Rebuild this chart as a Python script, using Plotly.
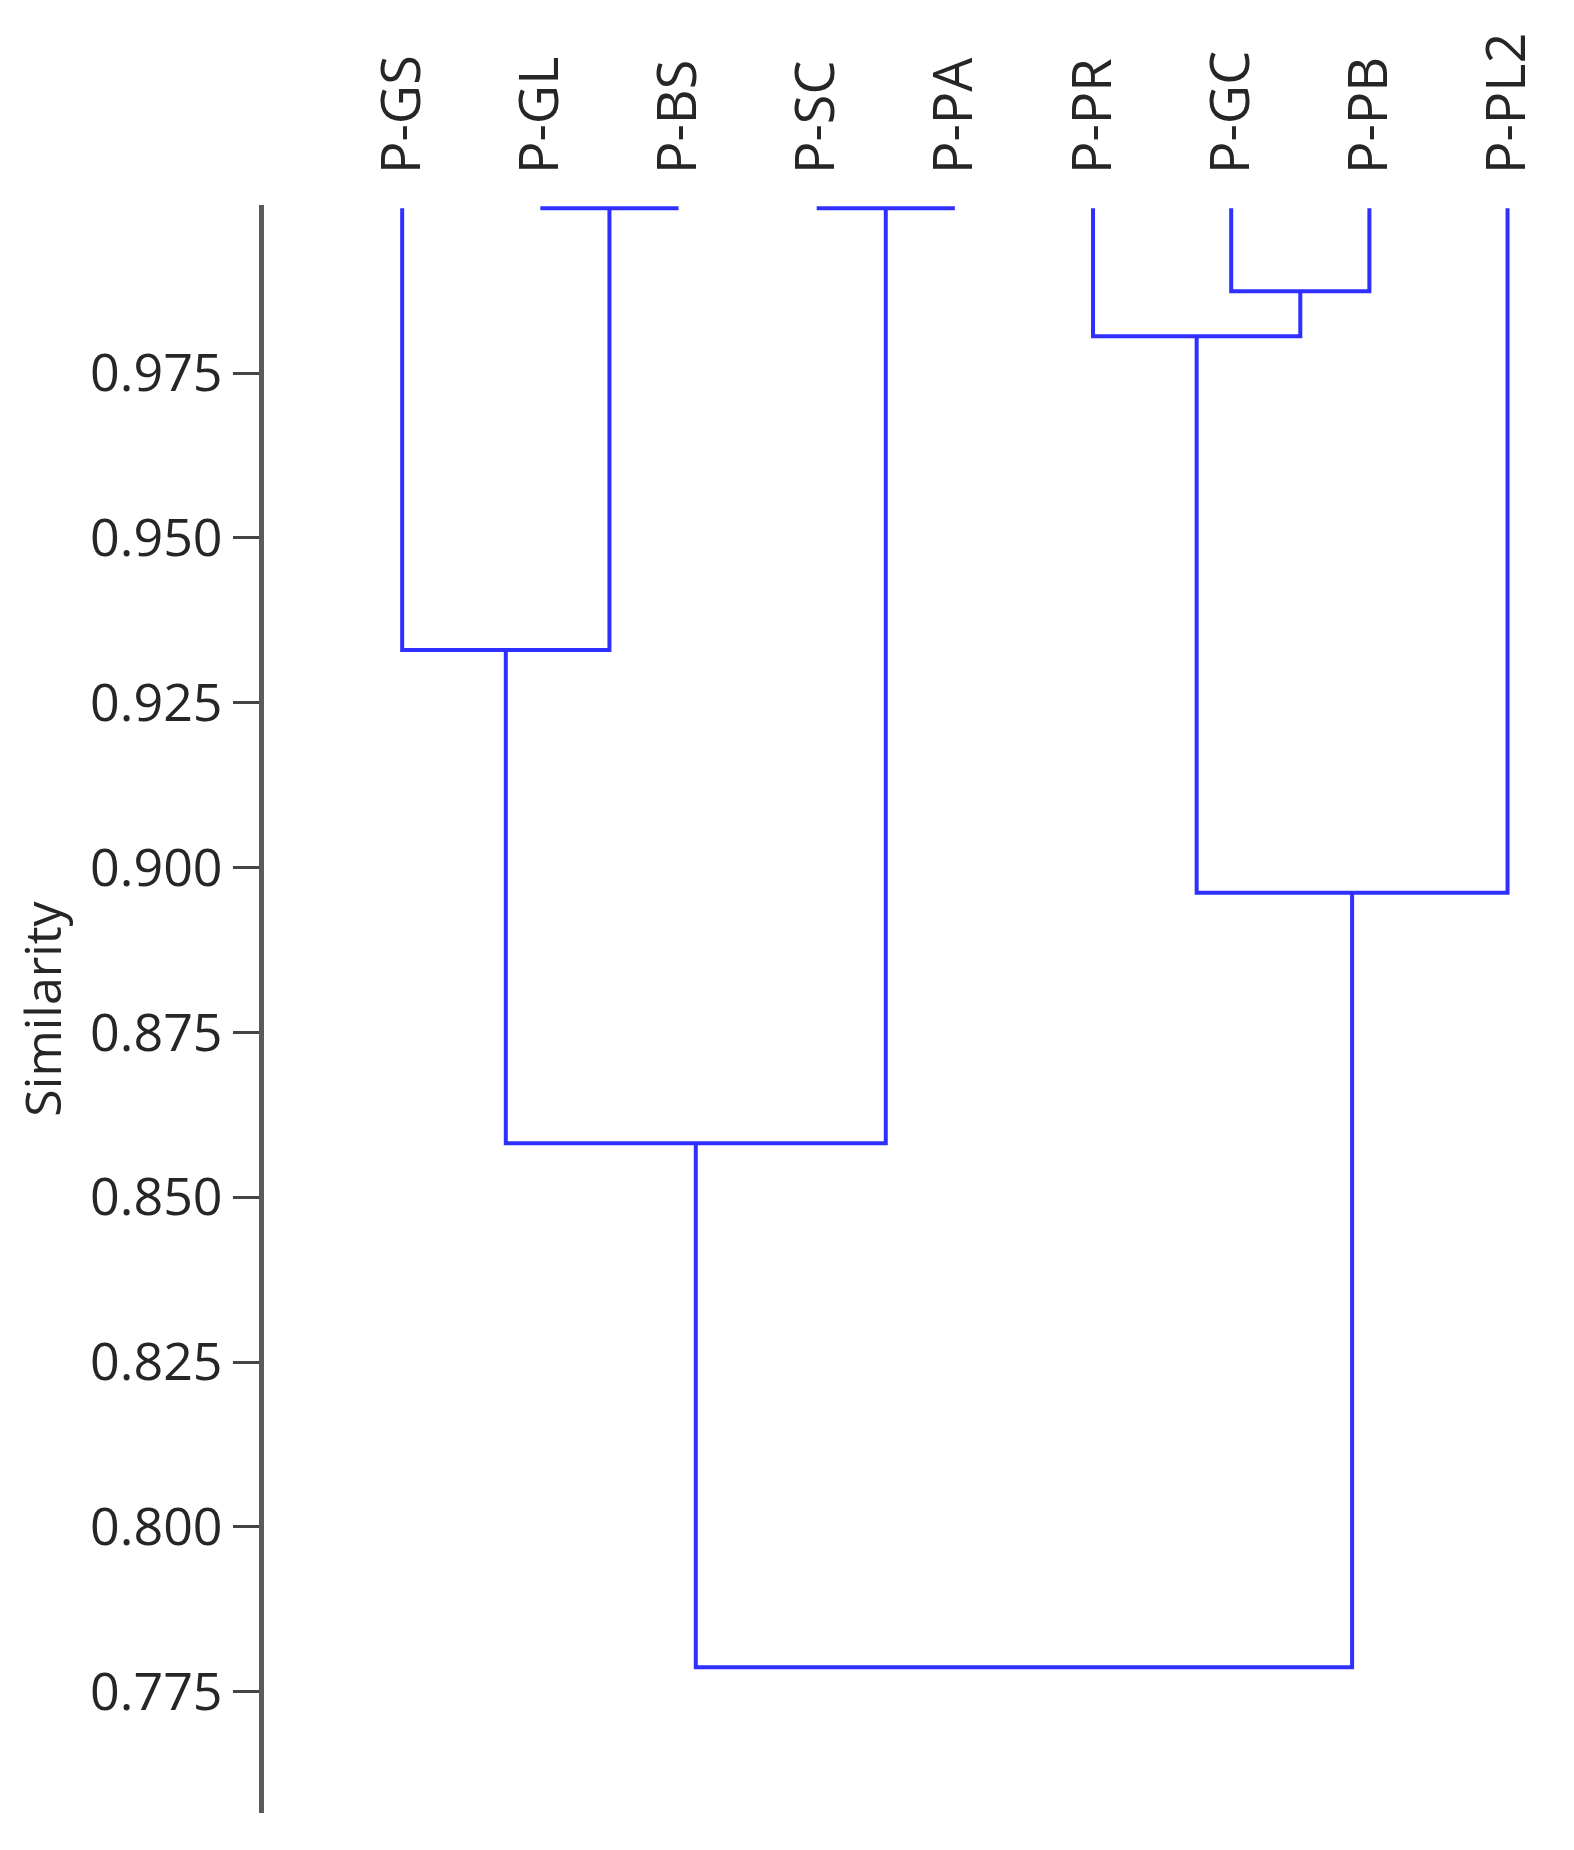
import plotly.graph_objects as go

# leaf labels, left to right as they sit on the top axis
leaves = ["P-GS", "P-GL", "P-BS", "P-SC", "P-PA", "P-PR", "P-GC", "P-PB", "P-PL2"]

# merges: (left child, right child, similarity)
# children are leaf names or the index of an earlier merge
merge_left = ["P-GL", "P-SC", "P-GC", "P-PR", "P-GS", 3, 4, 6]
merge_right = ["P-BS", "P-PA", "P-PB", 2, 0, "P-PL2", 1, 5]
merge_sim = [1.0, 1.0, 0.9874, 0.9806, 0.933, 0.8962, 0.8582, 0.7787]

y_ticks = [0.775, 0.800, 0.825, 0.850, 0.875, 0.900, 0.925, 0.950, 0.975]

LEAF_TOP = 1.0
LINE_COL = "#2f2fff"
TXT_COL = "#262626"
FONT = "Open Sans"


def node_pos(node, xs, hs):
    ### returns (x, height) for a leaf name or merge index
    if isinstance(node, str):
        return leaves.index(node) + 1, LEAF_TOP
    return xs[node], hs[node]


def dendro_lines():
    xs, hs = [], []
    lx, ly = [], []
    for a, b, s in zip(merge_left, merge_right, merge_sim):
        xa, ha = node_pos(a, xs, hs)
        xb, hb = node_pos(b, xs, hs)
        # left leg, bar, right leg
        lx += [xa, xa, xb, xb, None]
        ly += [ha, s, s, hb, None]
        xs.append((xa + xb) / 2)
        hs.append(s)
    return lx, ly


lx, ly = dendro_lines()

fig = go.Figure()
fig.add_trace(go.Scatter(x=lx, y=ly, mode="lines",
                         line=dict(color=LINE_COL, width=4),
                         hoverinfo="skip", showlegend=False))

# page body has an 8px margin, so margins are trimmed by that much
fig.update_layout(
    width=1574, height=1850,
    margin=dict(l=256, r=33, t=197, b=45),
    plot_bgcolor="white", paper_bgcolor="white",
    font=dict(family=FONT, color=TXT_COL, size=53),
)
fig.update_xaxes(
    range=[0, 9.3], side="top",
    tickvals=list(range(1, len(leaves) + 1)), ticktext=leaves,
    tickangle=-90, ticks="", showline=False, showgrid=False, zeroline=False,
    ticklabelstandoff=30, tickfont=dict(size=54),
)
fig.update_yaxes(
    range=[0.7566, 1.0005],
    tickvals=y_ticks, tickformat=".3f",
    ticks="outside", ticklen=26, tickwidth=3, tickcolor="#444",
    showline=True, linewidth=5, linecolor="#5a5a5a",
    showgrid=False, zeroline=False,
    tickfont=dict(size=52),
    title=dict(text="Similarity", font=dict(size=50), standoff=20),
)

fig.write_html("out.html")
